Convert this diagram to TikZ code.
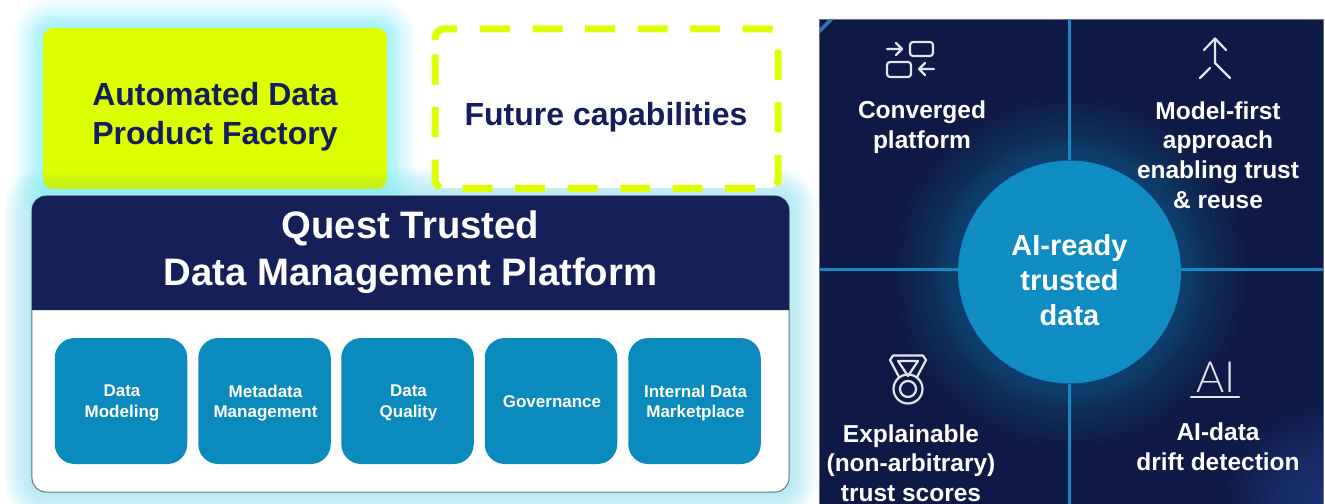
\documentclass[tikz,border=0pt]{standalone}
\usepackage{fontspec}
\setmainfont{Liberation Sans}
\newfontfamily\thinfont{Lato Light}
\usetikzlibrary{calc}
\definecolor{navytext}{HTML}{141E5E}
\definecolor{headblue}{HTML}{152058}
\definecolor{tileblue}{HTML}{0B8ABE}
\definecolor{limeA}{HTML}{DDFF00}
\definecolor{limeB}{HTML}{B4E838}
\definecolor{haloA}{HTML}{7CF2FF}
\definecolor{haloB}{HTML}{8CE2EE}
\definecolor{panelblue}{HTML}{0E1A45}
\definecolor{hubblue}{HTML}{0F8CC2}
\definecolor{glowblue}{HTML}{1A7AAA}
\definecolor{cornerblue}{HTML}{2A4A9C}
\definecolor{sliverblue}{HTML}{2F78B4}
\definecolor{iconwhite}{HTML}{E4E4EC}
\definecolor{frameline}{HTML}{667088}
\tikzset{
  x=1bp,y=-1bp,
  headline/.style={font=\bfseries\fontsize{32bp}{39bp}\selectfont,text=navytext,align=center,inner sep=0pt},
  platformtitle/.style={font=\bfseries\fontsize{38.3bp}{46.5bp}\selectfont,text=white,align=center,inner sep=0pt},
  tile/.style={fill=tileblue,rounded corners=20bp,minimum width=132.5bp,minimum height=126bp,inner sep=0pt},
  tilelabel/.style={text=white,align=center,inner sep=0pt,font=\bfseries\fontsize{17bp}{20.5bp}\selectfont},
  panellabel/.style={font=\bfseries\fontsize{24.5bp}{29.6bp}\selectfont,text=white,align=center,inner sep=0pt},
  panelrule/.style={draw=hubblue,line width=3bp},
  icon/.style={draw=iconwhite,line width=2.2bp,line cap=round,line join=round},
  limedash/.style={draw=limeA,line width=7bp}
}
\begin{document}
\begin{tikzpicture}
\useasboundingbox (0,0) rectangle (1325,504);
\fill[white] (0,0) rectangle (1325,504);
% halos
\begin{scope}
\clip (5,0) rectangle (1325,504);
\foreach \d in {28,26,...,0}{
  \fill[haloB,opacity=.06,rounded corners={(\d+12)*1bp}] ({32-\d},{196-\d}) rectangle ({789+\d},{492+\d});
}
\foreach \d in {30,28,...,16}{
  \fill[haloA,opacity=.04,rounded corners={(\d+10)*1bp}] ({43-\d},{28-\d}) rectangle ({387+\d},{189+\d});
}
\foreach \d in {14,12,...,0}{
  \fill[haloA,opacity=.09,rounded corners={(\d+10)*1bp}] ({43-\d},{28-\d}) rectangle ({387+\d},{189+\d});
}
\end{scope}
% top row
\node[fill=limeA,rounded corners=10bp,minimum width=344bp,minimum height=161bp,inner sep=0pt] (factory) at (215,108.5) {};
\begin{scope}
\clip[rounded corners=10bp] (43,28) rectangle (387,189);
\foreach \y in {173,175,...,187}{
  \fill[limeB,opacity=.1] (43,\y) rectangle (387,189);
}
\end{scope}
\node[headline] (factorytext) at (215,117) {Automated Data\\Product Factory};
\node[fill=white,rounded corners=9bp,minimum width=343bp,minimum height=159bp,inner sep=0pt] (future) at (606.5,108.5) {};
\draw[limedash,rounded corners=9bp,dash pattern=on 30bp off 22.5bp]
  (480,29) -- (778,29) -- (778,188.5) -- (435,188.5) -- (435,54);
\draw[limedash,rounded corners=9bp] (435,40) -- (435,29) -- (457,29);
\node[headline] (futuretext) at (606,117) {Future capabilities};
% platform
\node[fill=white,draw=frameline,line width=1bp,rounded corners=14bp,minimum width=757bp,minimum height=296bp,inner sep=0pt] (platform) at (410.5,344) {};
\fill[headblue] (32,310) [rounded corners=14bp] -- (32,196) -- (789,196) [sharp corners] -- (789,310) -- cycle;
\node[platformtitle] (platformtext) at (410.5,252) {Quest Trusted\\Data Management Platform};
\node[tile] (t1) at (121,401) {};
\node[tile] (t2) at (264.5,401) {};
\node[tile] (t3) at (407.5,401) {};
\node[tile] (t4) at (551,401) {};
\node[tile] (t5) at (694.5,401) {};
\node[tilelabel] (t1text) at (122,403) {Data\\Modeling};
\node[tilelabel] (t2text) at (265.5,403) {Metadata\\Management};
\node[tilelabel] (t3text) at (408.5,403) {Data\\Quality};
\node[tilelabel] (t4text) at (552,402) {Governance};
\node[tilelabel] (t5text) at (695.5,403) {Internal Data\\Marketplace};
% panel
\fill[panelblue] (819,19) rectangle (1323,504);
\begin{scope}
\clip (819,19) rectangle (1323,504);
\foreach \r in {176,172,...,116}{
  \fill[glowblue,opacity=.028] (1069.5,272) circle (\r);
}
\foreach \r in {135,131,...,116}{
  \fill[glowblue,opacity=.03] (1069.5,272) circle (\r);
}
\foreach \r in {100,93,...,16}{
  \fill[cornerblue,opacity=.06] (1325,504) circle (\r);
}
\fill[sliverblue] (819,34) -- (834,19) -- (829,19) -- (819,29) -- cycle;
\end{scope}
\draw[draw=frameline,line width=.6bp] (819,504) -- (819,19) -- (1323,19) -- (1323,504);
\node[circle,fill=hubblue,minimum size=223bp,inner sep=0pt] (hub) at (1069.5,272) {};
\node[font=\bfseries\fontsize{29bp}{35bp}\selectfont,text=white,align=center,inner sep=0pt] (hubtext) at (1069.5,280.5) {AI-ready\\trusted\\data};
\coordinate (railtop) at (1069.5,19);
\coordinate (railbottom) at (1069.5,504);
\coordinate (railleft) at (819,269);
\coordinate (railright) at (1323,269);
\draw[panelrule] (railtop) -- (railtop |- hub.north);
\draw[panelrule] (railbottom) -- (railbottom |- hub.south);
\draw[panelrule] (railleft) -- (railleft -| hub.west);
\draw[panelrule] (railright) -- (railright -| hub.east);
\node[panellabel] (converged) at (922,127) {Converged\\platform};
\node[panellabel] (modelfirst) at (1218,155) {Model-first\\approach\\enabling trust\\\& reuse};
\node[panellabel] (explainable) at (911,463) {Explainable\\(non-arbitrary)\\trust scores};
\node[panellabel] (aidrift) at (1218,447) {AI-data\\drift detection};
% icon: converged
\draw[icon] (887,49) -- (902,49) (896,43) -- (902,49) -- (896,55);
\draw[icon,rounded corners=3bp] (910,42) rectangle (933,56);
\draw[icon,rounded corners=3bp] (887,62) rectangle (911,77);
\draw[icon] (934,69) -- (919,69) (925,63) -- (919,69) -- (925,75);
% icon: model-first
\draw[icon] (1204,50) -- (1215,38.5) -- (1226,50) (1215,38.5) -- (1215,63) -- (1230,78) (1200,78) -- (1210,68);
% icon: medal
\draw[icon] (899,377) -- (890,360) -- (893,355.5) -- (923,355.5) -- (926,360) -- (917,377);
\draw[icon] (898,361) -- (918,361) -- (908,376) -- cycle;
\draw[icon] (908,389) circle (14.5) (908,389) circle (8);
% icon: AI
\node[font=\thinfont\fontsize{43bp}{43bp}\selectfont,text=iconwhite,inner sep=0pt] (aiicon) at (1216,377) {AI};
\draw[icon] (1191,397) -- (1239,397);
\end{tikzpicture}
\end{document}
